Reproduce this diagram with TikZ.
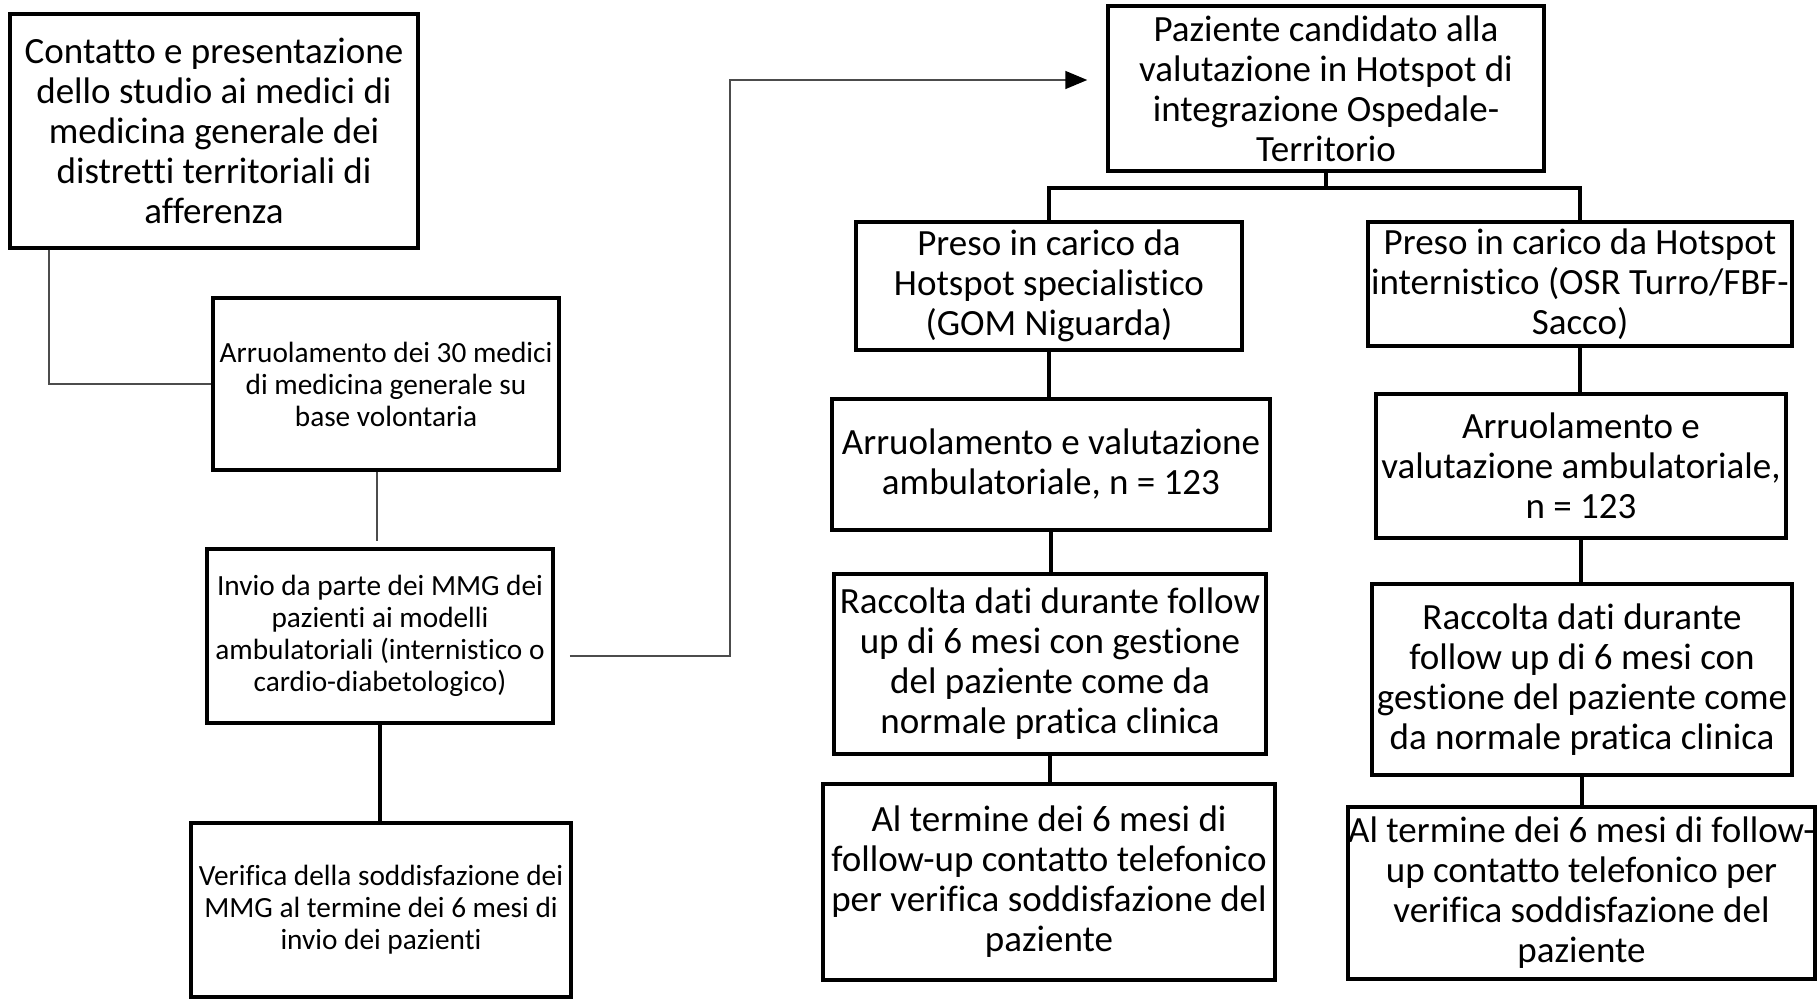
\documentclass[tikz,border=0pt]{standalone}
\usepackage{fontspec}
\setmainfont{Carlito}[Ligatures=NoCommon]
\usetikzlibrary{arrows.meta,calc}
\newcommand\fbig{\fontsize{37pt}{40pt}\selectfont}
\newcommand\fsmall{\fontsize{29.3pt}{32pt}\selectfont}
\begin{document}
\begin{tikzpicture}[x=1pt,y=-1pt,
  box/.style={draw=black, line width=3.5pt, inner sep=0pt, align=center, font=\fbig},
  sbox/.style={box, font=\fsmall},
  thickc/.style={line width=3.5pt, draw=black},
  thinc/.style={line width=1.6pt, draw=black!70}]
\useasboundingbox[fill=white] (0,0) rectangle (1817,1000);
% left column
\node[box, minimum width=408pt, minimum height=234pt] (A) at (214,131)
  {Contatto e presentazione\\dello studio ai medici di\\medicina generale dei\\distretti territoriali di\\afferenza};
\node[sbox, minimum width=346pt, minimum height=172pt] (B) at (386,384)
  {Arruolamento dei 30 medici\\di medicina generale su\\base volontaria};
\node[sbox, minimum width=346pt, minimum height=174pt] (C) at (380,636)
  {Invio da parte dei MMG dei\\pazienti ai modelli\\ambulatoriali (internistico o\\cardio-diabetologico)};
\node[sbox, minimum width=380pt, minimum height=174pt] (D) at (381,910)
  {Verifica della soddisfazione dei\\MMG al termine dei 6 mesi di\\invio dei pazienti};
% right tree
\node[box, minimum width=436pt, minimum height=165pt] (E) at (1326,88.5)
  {Paziente candidato alla\\valutazione in Hotspot di\\integrazione Ospedale-\\Territorio};
\node[box, minimum width=386pt, minimum height=128pt] (F) at (1049,286)
  {Preso in carico da\\Hotspot specialistico\\(GOM Niguarda)};
\node[box, minimum width=424pt, minimum height=124pt] (G) at (1580,284)
  {Preso in carico da Hotspot\\internistico (OSR Turro/FBF-\\Sacco)};
\node[box, minimum width=438pt, minimum height=131pt] (H) at (1051,464.5)
  {Arruolamento e valutazione\\ambulatoriale, n = 123};
\node[box, minimum width=410pt, minimum height=144pt] (K) at (1581,466)
  {Arruolamento e\\valutazione ambulatoriale,\\n = 123};
\node[box, minimum width=432pt, minimum height=180pt] (I) at (1050,664)
  {Raccolta dati durante follow\\up di 6 mesi con gestione\\del paziente come da\\normale pratica clinica};
\node[box, minimum width=420pt, minimum height=191pt] (L) at (1582,679.5)
  {Raccolta dati durante\\follow up di 6 mesi con\\gestione del paziente come\\da normale pratica clinica};
\node[box, minimum width=452pt, minimum height=196pt] (J) at (1049,882)
  {Al termine dei 6 mesi di\\follow-up contatto telefonico\\per verifica soddisfazione del\\paziente};
\node[box, minimum width=467pt, minimum height=172pt] (M) at (1581.5,893)
  {Al termine dei 6 mesi di follow-\\up contatto telefonico per\\verifica soddisfazione del\\paziente};
% left connectors
\draw[thinc] ([xshift=41pt]A.south west) |- (B.west);
\draw[thinc] ([xshift=-9pt]B.south) -- ([xshift=-3pt,yshift=6pt]C.north);
\draw[thickc] (C.south) -- (C.south |- D.north);
\coordinate (elbow) at (730,80);
\draw[thinc, -{Triangle[length=22pt,width=18pt,color=black]}]
  ([xshift=15pt,yshift=-20pt]C.east) -| (elbow) -- ([xshift=-19pt,yshift=8.5pt]E.west);
% right connectors
\coordinate (br) at (1326,188);
\draw[thickc] (E.south) -- (br);
\draw[thickc] (F.north) |- (br) -| (G.north);
\draw[thickc] (F.south) -- (F.south |- H.north);
\draw[thickc] (H.south) -- (H.south |- I.north);
\draw[thickc] (I.south) -- (I.south |- J.north);
\draw[thickc] (G.south) -- (G.south |- K.north);
\draw[thickc] (K.south) -- (K.south |- L.north);
\draw[thickc] (L.south) -- (L.south |- M.north);
\end{tikzpicture}
\end{document}
